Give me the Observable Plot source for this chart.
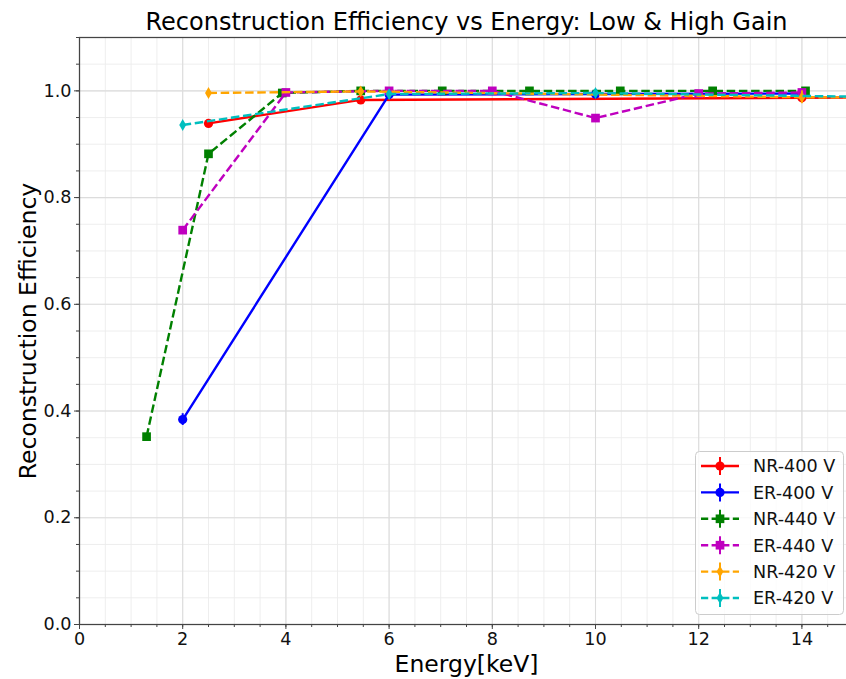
<!DOCTYPE html>
<html>
<head>
<meta charset="utf-8">
<script src="https://cdn.jsdelivr.net/npm/d3@7"></script>
<script src="https://cdn.jsdelivr.net/npm/@observablehq/plot@0.6"></script>
<style>
  html, body { margin: 0; padding: 0; background: #fff; overflow: hidden; }
  #wrap { position: relative; width: 846px; height: 679px; overflow: hidden; font-family: "DejaVu Sans", sans-serif; }
  #wrap > svg:first-child { max-width: none !important; width: 853px; height: 679px; display: block; }
  #legend { position: absolute; left: 0; top: 0; pointer-events: none; }
</style>
</head>
<body>
<div id="wrap"></div>
<script>
// Reconstruction efficiency per energy point, for each field setting
const nr400Energy = [2.5, 5.45, 14.0, 17.5];
const nr400Eff    = [0.939, 0.983, 0.987, 0.989];
const nr400Err    = [0.004, 0.003, 0.002, 0.002];

const er400Energy = [2, 6, 10, 14];
const er400Eff    = [0.384, 0.993, 0.994, 0.995];
const er400Err    = [0.011, 0.002, 0.002, 0.002];

const nr440Energy = [1.3, 2.5, 3.93, 5.45, 7.03, 8.72, 10.48, 12.27, 14.07];
const nr440Eff    = [0.352, 0.882, 0.996, 1.0, 1.0, 1.0, 1.0, 1.0, 1.0];
const nr440Err    = [0.005, 0.005, 0.002, 0.001, 0.001, 0.001, 0.001, 0.001, 0.001];

const er440Energy = [2, 4, 6, 8, 10, 12, 14];
const er440Eff    = [0.739, 0.997, 1.0, 1.0, 0.949, 0.995, 0.997];
const er440Err    = [0.005, 0.002, 0.001, 0.001, 0.003, 0.002, 0.002];

const nr420Energy = [2.5, 5.45, 14.0, 17.5];
const nr420Eff    = [0.996, 0.999, 0.988, 0.987];
const nr420Err    = [0.004, 0.002, 0.012, 0.003];

const er420Energy = [2, 6, 10, 18];
const er420Eff    = [0.936, 0.994, 0.996, 0.985];
const er420Err    = [0.006, 0.003, 0.005, 0.003];

const xMajor = [0, 2, 4, 6, 8, 10, 12, 14];
const xMinor = d3.range(0, 15.01, 0.5);
const yMajor = [0, 0.2, 0.4, 0.6, 0.8, 1.0];
const yMinor = d3.range(0, 1.1001, 0.05).map(v => +v.toFixed(2));

const dashed = "8.5,3.7";
const series = [
  {name: "NR-400 V", energy: nr400Energy, eff: nr400Eff, err: nr400Err, color: "#ff0000", symbol: "circle",  r: 4.6, dash: null},
  {name: "ER-400 V", energy: er400Energy, eff: er400Eff, err: er400Err, color: "#0000ff", symbol: "circle",  r: 4.6, dash: null},
  {name: "NR-440 V", energy: nr440Energy, eff: nr440Eff, err: nr440Err, color: "#008000", symbol: "square",  r: 4.9, dash: dashed},
  {name: "ER-440 V", energy: er440Energy, eff: er440Eff, err: er440Err, color: "#bf00bf", symbol: "square",  r: 4.9, dash: dashed},
  {name: "NR-420 V", energy: nr420Energy, eff: nr420Eff, err: nr420Err, color: "#ffa500", symbol: "diamond", r: 3.6, dash: dashed},
  {name: "ER-420 V", energy: er420Energy, eff: er420Eff, err: er420Err, color: "#00bfbf", symbol: "diamond", r: 3.6, dash: dashed}
];

const axisColor = "#444";
const font = "DejaVu Sans, sans-serif";
const lineWidth = 2.4;

const marks = [
  Plot.gridX(xMinor, {stroke: "#ececec", strokeOpacity: 1, strokeWidth: 0.9}),
  Plot.gridY(yMinor, {stroke: "#ececec", strokeOpacity: 1, strokeWidth: 0.9}),
  Plot.gridX(xMajor, {stroke: "#dcdcdc", strokeOpacity: 1, strokeWidth: 1.1}),
  Plot.gridY(yMajor, {stroke: "#dcdcdc", strokeOpacity: 1, strokeWidth: 1.1})
];

for (const s of series) {
  const rows = s.energy.map((e, i) => ({e, eff: s.eff[i], err: s.err[i]}));
  marks.push(
    Plot.line(rows, {x: "e", y: "eff", stroke: s.color, strokeWidth: lineWidth,
      strokeDasharray: s.dash ?? undefined, strokeLinecap: "butt", strokeLinejoin: "round"}),
    Plot.ruleX(rows, {x: "e", y1: d => d.eff - d.err, y2: d => d.eff + d.err,
      stroke: s.color, strokeWidth: 2}),
    Plot.dot(rows, {x: "e", y: "eff", fill: s.color, stroke: "none", symbol: s.symbol, r: s.r})
  );
}

marks.push(
  Plot.frame({stroke: axisColor, strokeWidth: 1.25}),
  Plot.axisX({ticks: xMinor, tickSize: 3, tickFormat: () => "", stroke: axisColor, label: null}),
  Plot.axisY({ticks: yMinor, tickSize: 3, tickFormat: () => "", stroke: axisColor, label: null}),
  Plot.axisX({ticks: xMajor, tickSize: 5, tickPadding: 3, tickFormat: d3.format("d"),
    stroke: axisColor, fill: "#111", fontSize: 17.6, label: null}),
  Plot.axisY({ticks: yMajor, tickSize: 5, tickPadding: 3, tickFormat: d3.format(".1f"),
    stroke: axisColor, fill: "#111", fontSize: 17.6, label: null}),
  Plot.text(["Reconstruction Efficiency vs Energy: Low & High Gain"], {
    frameAnchor: "top", lineAnchor: "bottom", dy: -7.5, fontSize: 24, fill: "#000"}),
  Plot.text(["Energy[keV]"], {
    frameAnchor: "bottom", lineAnchor: "bottom", dy: 47, fontSize: 23.5, fill: "#000"}),
  Plot.text(["Reconstruction Efficiency"], {
    frameAnchor: "left", textAnchor: "middle", lineAnchor: "bottom", rotate: -90, dx: -44,
    fontSize: 23.5, fill: "#000"})
);

const chart = Plot.plot({
  width: 853,
  height: 679,
  marginTop: 37,
  marginBottom: 55,
  marginLeft: 79,
  marginRight: 0,
  style: {fontFamily: font, background: "#fff", overflow: "hidden", maxWidth: "none"},
  x: {domain: [0, 15]},
  y: {domain: [0, 1.1]},
  marks
});

const wrap = document.getElementById("wrap");
wrap.appendChild(chart);

// Legend box in the lower right of the axes
const legend = d3.select(wrap).append("svg")
  .attr("id", "legend")
  .attr("width", 846).attr("height", 679)
  .style("font-family", font);

legend.append("rect")
  .attr("x", 695.5).attr("y", 451.5).attr("width", 148).attr("height", 163)
  .attr("rx", 4).attr("fill", "#fff").attr("fill-opacity", 0.8)
  .attr("stroke", "#cccccc").attr("stroke-width", 1);

const symbolTypes = {circle: d3.symbolCircle, square: d3.symbolSquare, diamond: d3.symbolDiamond};
series.forEach((s, i) => {
  const cy = 466 + i * 26.4;
  const g = legend.append("g");
  g.append("line")
    .attr("x1", 701).attr("x2", 739).attr("y1", cy).attr("y2", cy)
    .attr("stroke", s.color).attr("stroke-width", lineWidth)
    .attr("stroke-dasharray", s.dash ? "7.2,3.4" : null);
  g.append("line")
    .attr("x1", 720).attr("x2", 720).attr("y1", cy - 9).attr("y2", cy + 9)
    .attr("stroke", s.color).attr("stroke-width", 2);
  g.append("path")
    .attr("transform", `translate(720,${cy})`)
    .attr("d", d3.symbol(symbolTypes[s.symbol], Math.PI * s.r * s.r)())
    .attr("fill", s.color);
  g.append("text")
    .attr("x", 753).attr("y", cy).attr("dy", "0.36em")
    .attr("font-size", 17.6).attr("fill", "#111")
    .text(s.name);
});
</script>
</body>
</html>
